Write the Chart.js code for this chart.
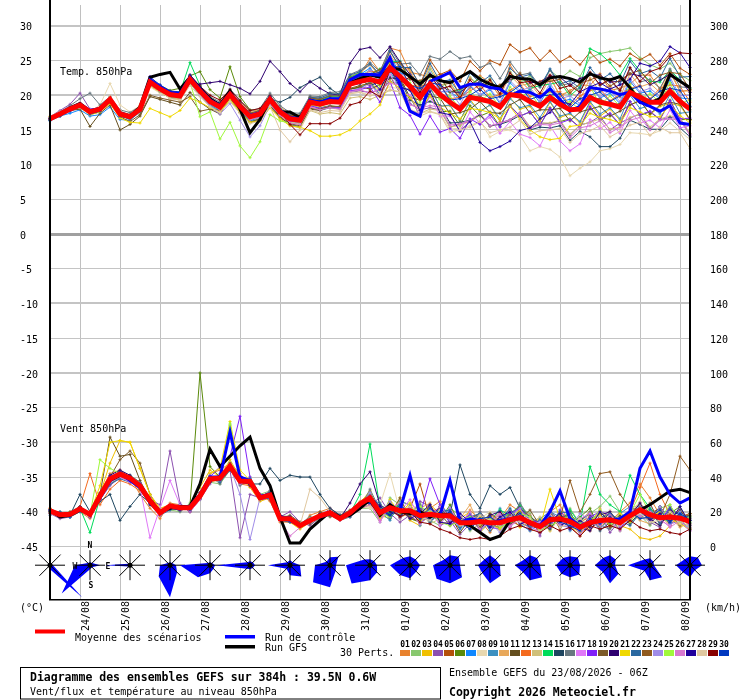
<!DOCTYPE html>
<html><head><meta charset="utf-8">
<script src="https://cdn.jsdelivr.net/npm/chart.js@4.4.0/dist/chart.umd.min.js"></script>
<style>html,body{margin:0;padding:0;background:#fff;}canvas{display:block;}</style>
</head><body>
<canvas id="c" width="740" height="700"></canvas>
<script>
// ---------- categories / tick labels ----------
const days = ['24/08','25/08','26/08','27/08','28/08','29/08','30/08','31/08','01/09','02/09','03/09','04/09','05/09','06/09','07/09','08/09'];
const leftTicks = [30,25,20,15,10,5,0,-5,-10,-15,-20,-25,-30,-35,-40,-45];
const rightTickLabels = ['300','280','260','240','220','200','180','160','140','120','100','80','60','40','20','0'];
const pertColors = ['#e8822e','#88c86e','#f0c000','#8c50b0','#b4500a','#5a8a0a','#1088ff','#e8d8b0','#3c90c0','#e8a85a','#644e1e','#f46a1e','#d0c07a','#00dc5a','#1e4660','#687880','#e078f8','#8020f8','#7c5a28','#2e0070','#f0d800','#2a68a0','#905a1e','#a08ce8','#a0f83c','#d878d0','#20009c','#e0c8a0','#880000','#0038c0'];

// ---------- temperature 850 hPa (°C), every 6 h ----------
const tempMean=[16.6,17.3,18.0,18.6,17.6,18.0,19.4,17.3,16.9,18.0,21.9,20.9,20.1,19.9,22.3,20.6,19.1,18.3,20.1,18.4,16.9,17.3,19.4,17.6,16.6,16.4,19.0,18.7,19.1,19.0,21.6,22.0,22.3,21.9,24.0,22.7,21.3,19.7,21.6,20.1,19.0,18.0,19.7,19.4,19.1,18.3,20.1,19.9,19.1,18.4,19.7,18.7,17.9,18.0,19.7,19.0,18.7,18.3,20.4,19.7,19.0,19.0,20.6,19.1,18.0];
const tempCtrl=[16.7,17.4,18.1,18.7,17.8,18.1,19.5,17.5,17.0,18.1,22.2,21.2,20.4,20.2,22.6,20.9,19.3,18.5,20.3,18.6,17.1,17.5,19.6,17.8,16.8,16.6,19.3,19.0,19.5,19.5,22.2,23.0,23.0,22.9,25.4,21.6,17.7,17.0,22.0,22.6,23.3,21.1,21.6,21.6,21.1,20.9,19.9,20.6,20.4,19.7,20.9,19.4,17.7,18.4,21.1,20.9,20.6,20.1,20.4,19.0,18.4,17.7,18.5,16.0,15.8];
const tempGfs=[16.6,17.3,18.2,18.8,17.7,18.1,19.4,17.4,17.0,18.3,22.6,23.0,23.3,20.9,22.6,21.0,19.5,18.6,20.6,18.0,14.6,16.5,19.5,17.6,17.6,16.8,19.2,19.0,19.4,19.3,21.8,22.4,22.9,22.6,24.0,23.7,22.7,21.6,22.9,22.1,21.8,22.6,23.4,22.3,21.6,21.1,22.7,22.4,22.3,21.5,22.5,22.7,22.4,21.9,23.1,22.5,22.2,22.7,21.1,19.0,18.9,19.5,23.0,22.0,21.1];
const tempP01=[16.8,17.5,18.2,18.9,17.8,18.3,19.6,17.6,17.2,18.3,21.5,20.6,19.8,19.5,22.0,20.3,19.4,18.7,20.4,18.9,17.3,17.6,19.9,18.0,17.1,16.9,19.6,19.4,20.0,20.2,22.4,22.9,25.3,23.4,26.8,26.4,23.3,23.0,22.6,23.0,23.0,19.8,21.0,22.8,21.8,19.8,24.4,22.1,20.7,22.0,22.8,19.8,20.7,21.5,21.4,23.1,20.7,21.0,21.6,22.9,22.9,20.9,23.6,20.5,20.8];
const tempP02=[16.4,17.1,17.8,18.4,17.3,17.8,19.0,17.0,16.6,17.8,21.6,20.5,19.7,19.7,22.1,20.2,18.6,17.8,19.6,18.0,16.5,16.9,19.0,17.4,16.8,16.9,19.4,19.3,19.8,20.1,22.4,22.8,23.6,21.7,25.1,23.0,22.9,20.6,23.8,21.2,21.9,19.6,22.6,21.3,22.4,20.2,23.4,21.8,22.8,21.1,23.6,22.4,23.5,22.7,25.4,26.0,26.3,26.5,26.8,25.4,24.4,23.8,24.6,23.0,22.1];
const tempP03=[16.9,17.5,18.2,18.5,17.4,17.9,19.1,17.2,16.5,17.6,21.3,20.4,19.6,19.3,21.8,20.0,18.7,17.9,19.6,17.8,16.3,16.7,18.8,17.0,16.0,15.8,18.4,18.0,18.3,18.1,20.8,21.3,21.9,20.6,23.8,21.5,21.4,18.1,21.2,18.4,18.5,16.3,19.4,17.6,18.6,16.2,19.7,18.0,18.4,16.2,19.0,16.8,17.3,16.0,18.9,17.0,18.0,16.4,18.6,19.3,17.2,18.4,18.8,18.5,16.4];
const tempP04=[16.9,17.8,18.7,20.3,18.0,18.2,19.5,17.6,17.0,18.4,22.4,21.5,20.3,20.2,22.9,21.3,19.5,18.7,20.6,18.6,17.1,17.6,19.6,17.8,16.5,16.0,18.6,18.1,18.3,18.0,20.4,20.6,20.4,20.8,22.0,21.6,18.8,17.9,18.2,17.9,15.4,15.9,16.2,17.2,15.5,16.0,16.5,17.5,15.2,16.0,15.9,16.3,14.2,15.7,16.1,17.0,15.0,16.0,16.7,17.3,15.1,16.5,16.8,16.6,14.4];
const tempP05=[16.5,17.2,17.9,18.5,17.5,17.9,19.2,17.2,16.8,17.8,22.0,21.0,20.4,20.0,22.6,20.9,19.3,18.5,20.3,18.6,17.1,17.5,19.7,17.8,16.9,16.8,19.5,19.4,19.9,20.1,22.7,23.3,24.4,22.9,26.3,24.0,23.9,21.5,25.1,23.0,23.6,22.0,24.9,23.5,25.0,24.4,27.3,26.2,26.8,25.0,26.4,24.8,25.6,24.4,26.2,24.7,25.2,24.2,26.0,25.1,25.9,24.3,26.0,23.9,23.0];
const tempP06=[16.7,17.4,18.1,18.8,17.8,18.2,19.7,17.5,17.1,18.3,22.4,21.4,20.7,21.0,22.8,23.4,20.8,19.6,24.1,19.8,17.9,17.8,19.9,17.9,16.4,16.0,18.5,18.2,18.5,18.3,20.9,21.1,21.8,19.8,22.8,20.3,19.8,17.0,20.1,17.6,17.7,15.6,18.5,17.0,17.6,15.5,18.5,17.0,17.6,15.7,18.2,16.2,16.6,15.3,18.2,16.4,17.3,15.7,19.1,17.1,17.6,16.5,19.3,16.5,16.5];
const tempP07=[16.3,17.0,17.4,17.9,17.0,17.2,18.3,16.5,16.4,17.6,21.8,20.6,19.6,19.5,21.9,20.2,18.7,17.7,19.6,17.8,16.3,16.9,19.2,17.4,16.8,16.9,19.7,19.5,20.0,20.0,22.5,23.0,23.9,22.3,25.6,23.2,22.9,20.0,23.2,20.5,20.5,19.5,21.3,20.0,20.8,18.8,21.8,20.4,20.8,18.9,21.3,19.1,19.4,18.5,21.4,19.6,20.3,18.8,22.0,20.3,20.6,19.5,22.2,19.6,19.5];
const tempP08=[16.9,17.6,18.0,18.3,17.6,18.6,21.7,18.6,17.6,18.5,21.2,20.3,20.0,20.2,22.0,20.4,19.0,18.0,19.8,18.0,16.6,17.0,19.0,17.1,16.1,15.9,18.5,18.0,18.2,17.9,20.3,20.5,20.0,20.5,21.2,20.9,18.0,17.4,17.7,17.3,15.1,15.3,15.6,16.3,14.0,14.8,15.0,14.2,12.0,12.6,12.2,11.1,8.4,9.5,10.4,12.0,12.3,12.9,14.6,14.5,14.3,14.9,16.0,14.8,13.6];
const tempP09=[16.5,17.2,17.9,18.4,17.3,17.7,19.1,17.0,16.6,17.7,21.5,20.6,19.7,19.5,21.7,20.0,18.5,17.6,19.3,17.7,16.2,16.6,18.5,16.8,15.8,15.5,18.2,17.8,18.2,18.1,20.6,21.0,21.9,20.1,23.4,21.0,20.9,18.0,21.1,18.4,18.6,16.4,19.1,17.7,18.6,16.6,19.5,18.2,18.6,16.8,19.1,17.0,17.4,16.2,19.1,17.3,18.2,16.6,20.0,18.1,18.5,17.3,20.1,17.4,17.6];
const tempP10=[16.8,17.4,18.2,18.7,17.9,18.2,19.7,17.7,17.2,18.4,22.0,21.2,20.5,20.3,22.5,20.9,19.4,18.8,20.6,19.0,17.6,17.9,20.0,18.3,17.3,17.2,19.8,19.6,20.2,20.2,22.7,23.3,24.4,22.7,25.8,23.8,23.6,20.9,24.2,21.5,21.7,19.7,22.5,21.0,21.9,19.8,22.9,21.4,21.7,19.9,22.4,20.1,20.5,19.4,22.5,20.5,21.4,19.7,23.1,21.2,21.7,20.4,23.3,20.6,20.6];
const tempP11=[16.5,17.0,17.8,18.0,15.5,17.4,18.6,15.0,15.8,17.0,19.8,19.4,19.0,18.6,20.4,19.0,18.0,17.3,19.6,17.5,16.1,16.6,18.7,16.9,15.7,15.4,18.0,17.8,18.3,18.4,20.9,21.2,20.9,21.5,22.4,22.5,19.7,19.3,19.9,19.6,17.3,17.5,18.0,19.1,17.5,17.4,18.6,19.4,17.4,17.9,17.9,18.1,16.3,17.6,18.0,18.4,17.0,17.7,18.6,19.2,17.3,18.6,19.0,18.7,16.5];
const tempP12=[16.6,17.3,18.1,18.7,17.7,18.1,19.5,17.5,17.0,18.1,21.9,21.1,20.2,20.0,22.4,20.8,19.3,18.4,20.2,18.6,17.1,17.4,19.5,17.8,16.8,16.6,19.3,19.0,19.5,19.4,22.0,22.5,23.5,23.2,24.0,24.0,21.5,21.2,21.8,21.6,19.5,19.7,20.6,21.5,19.7,20.1,20.7,21.6,19.8,20.2,20.5,20.5,18.5,19.9,20.7,20.9,19.2,20.1,21.0,21.4,19.5,21.0,21.5,21.3,19.0];
const tempP13=[16.7,17.4,18.0,18.4,17.5,17.9,19.1,17.1,16.7,17.9,21.5,20.5,19.6,19.5,21.8,20.0,18.4,17.6,19.2,17.6,16.1,16.4,18.4,16.7,15.6,15.3,17.8,17.3,17.5,17.3,19.6,19.8,19.4,20.0,20.7,20.5,17.8,17.4,18.0,17.8,15.4,15.7,16.2,17.1,15.5,15.9,16.4,17.4,15.5,16.0,16.0,16.4,14.4,15.7,16.1,16.6,15.1,15.4,16.8,17.3,15.4,16.6,17.0,16.8,14.5];
const tempP14=[16.6,17.3,17.9,18.5,17.6,18.0,19.3,17.2,16.8,17.9,22.3,21.2,20.2,20.4,24.7,21.4,19.4,18.6,20.3,18.6,17.1,17.6,19.7,17.9,16.9,16.8,19.4,19.2,19.8,19.8,22.6,23.2,23.0,23.8,24.8,24.9,22.3,22.0,22.8,22.6,20.4,20.8,21.5,22.5,21.1,21.4,22.0,23.0,21.0,21.4,21.6,21.9,19.9,21.2,26.7,26.0,24.7,22.9,25.3,23.5,22.0,21.9,23.6,22.2,21.0];
const tempP15=[16.5,17.1,17.8,18.3,17.3,17.7,19.0,17.0,16.6,17.7,21.5,20.6,19.8,19.7,22.0,20.3,18.8,18.0,19.8,18.2,16.8,17.3,19.5,19.0,19.7,21.1,21.9,22.6,21.0,20.0,21.8,22.2,21.4,21.9,22.6,22.2,19.3,18.6,19.1,18.5,16.0,16.1,16.4,17.2,15.6,15.8,16.3,17.1,15.0,15.4,15.3,15.6,13.5,14.8,14.0,12.6,12.6,13.8,16.4,15.8,15.1,15.1,16.8,15.3,14.0];
const tempP16=[16.8,17.6,18.5,19.5,20.3,18.6,19.8,17.9,17.5,18.4,22.1,21.3,20.5,20.4,22.8,21.3,19.8,19.0,20.9,19.3,17.8,18.1,20.3,18.5,17.5,17.4,19.9,19.8,20.4,20.5,23.0,23.6,24.7,23.4,26.8,24.5,24.6,22.9,25.6,25.2,26.3,25.3,25.6,24.0,24.6,22.4,24.8,22.9,23.2,21.3,23.6,21.4,21.7,20.6,23.3,21.4,22.2,20.5,23.8,21.9,22.3,21.0,23.8,21.2,21.1];
const tempP17=[16.7,17.5,18.3,18.9,17.9,18.2,19.6,17.4,16.9,18.1,22.0,21.0,20.1,19.9,22.5,20.8,19.2,18.3,20.1,18.3,16.9,17.1,19.1,17.3,16.2,16.0,18.6,18.1,18.4,18.3,20.7,20.9,21.6,19.9,23.0,20.4,20.0,17.0,19.8,17.0,17.0,14.8,17.6,15.9,16.8,14.5,16.2,14.4,13.9,12.7,15.6,13.4,12.0,13.0,16.5,15.2,16.1,14.5,17.8,16.0,16.4,15.3,17.9,15.3,15.6];
const tempP18=[16.6,17.4,18.1,18.8,17.7,18.0,19.4,17.2,16.8,18.0,22.7,21.3,20.2,20.1,22.6,20.8,19.1,18.2,20.0,18.3,16.8,17.1,19.2,17.4,16.3,16.0,18.5,18.1,18.4,18.2,20.6,20.8,21.2,19.0,22.0,18.2,17.1,14.4,17.0,14.7,15.2,13.8,16.6,15.8,17.2,15.4,18.4,17.0,17.6,15.7,18.1,16.0,16.5,15.4,18.4,16.6,17.4,15.8,19.1,17.2,17.7,16.5,19.2,16.6,16.7];
const tempP19=[16.4,17.1,17.8,18.3,17.2,17.6,19.0,16.9,16.2,17.2,20.0,19.6,19.3,19.0,19.8,17.7,18.0,17.8,19.5,17.7,16.1,16.4,18.5,16.8,15.9,15.6,18.1,18.0,18.4,18.4,21.0,21.4,21.7,21.9,23.4,22.7,20.9,20.0,21.3,20.4,18.8,18.5,19.6,19.9,19.0,18.8,20.1,20.4,19.0,18.9,19.6,19.2,17.8,18.5,19.6,19.5,18.6,18.8,20.3,20.2,18.9,19.5,20.5,19.6,17.9];
const tempP20=[16.7,17.4,18.2,18.8,17.8,18.2,19.5,17.5,17.1,18.2,21.9,21.0,20.3,20.2,21.6,21.6,21.8,22.0,21.5,21.0,20.2,22.0,24.9,23.4,21.7,20.5,22.0,21.0,20.2,20.0,24.6,26.6,26.9,25.4,27.0,24.8,23.0,21.4,23.0,21.5,20.5,20.4,21.5,21.9,21.1,21.0,22.2,22.9,21.8,21.9,22.8,22.6,21.4,22.4,23.0,22.9,21.9,22.0,23.1,22.8,21.5,22.2,23.0,22.2,20.4];
const tempP21=[16.9,17.4,17.9,18.2,17.2,17.6,18.8,16.7,16.1,16.0,18.1,17.5,16.9,17.8,19.6,19.0,18.2,17.6,19.4,17.6,16.1,16.3,18.2,16.6,15.6,15.4,14.9,14.1,14.1,14.3,15.0,16.3,17.3,18.6,22.0,21.0,19.6,18.0,19.9,18.3,17.4,16.6,18.1,17.9,17.5,16.6,18.4,16.5,15.0,14.0,13.6,13.8,15.5,15.7,17.4,16.8,16.5,16.0,18.2,17.6,16.9,16.9,18.6,17.1,16.0];
const tempP22=[16.5,17.2,17.9,18.6,17.6,18.1,19.5,17.4,17.1,18.2,22.2,21.2,20.5,20.3,22.7,21.0,19.5,18.8,20.6,18.9,17.4,17.8,19.9,18.1,17.2,17.1,19.7,19.6,20.2,20.2,22.9,23.4,24.5,23.0,26.4,24.0,24.0,21.4,24.6,22.0,22.2,20.2,23.2,21.8,22.8,20.8,23.9,22.6,23.0,21.2,23.8,21.6,22.1,21.0,24.0,22.2,23.1,21.6,24.9,23.1,23.6,22.5,25.3,22.6,22.7];
const tempP23=[16.6,17.3,18.0,18.7,17.7,18.1,19.5,17.4,17.1,18.1,22.2,21.0,20.3,20.1,22.5,20.8,19.4,18.6,20.4,18.8,17.4,17.8,19.8,18.0,17.1,17.0,19.6,19.4,19.9,19.9,22.5,23.0,23.0,23.7,24.7,24.7,22.3,22.1,22.8,22.6,20.5,20.9,21.4,22.4,21.0,21.5,22.1,23.2,21.2,21.8,22.0,22.3,20.3,21.7,22.2,22.8,21.3,22.2,23.1,23.6,21.7,22.9,23.3,23.1,20.8];
const tempP24=[16.8,17.5,18.2,18.7,17.7,18.1,19.5,17.4,17.0,18.1,21.8,20.7,19.9,19.6,21.9,20.1,18.4,17.3,18.8,16.4,14.0,15.6,18.6,17.2,16.5,16.4,19.1,19.0,19.5,19.4,22.1,22.6,23.6,22.1,25.4,23.0,22.8,20.1,23.2,20.5,20.7,18.6,21.5,20.1,21.0,19.0,22.1,20.7,21.1,19.2,21.7,19.5,19.9,18.8,21.7,19.8,20.7,19.1,22.4,20.5,21.0,19.8,22.6,19.9,20.0];
const tempP25=[16.6,17.3,18.0,18.6,17.5,17.9,19.3,17.2,16.8,17.9,21.7,20.7,19.8,19.6,21.9,16.9,17.6,13.7,16.1,12.7,11.0,13.3,17.2,16.3,16.0,16.0,18.6,18.4,18.9,18.9,21.5,21.9,22.8,21.2,24.5,22.0,21.8,19.0,22.2,19.4,19.9,18.0,20.5,19.2,20.2,18.3,21.2,19.8,20.5,18.3,20.7,18.4,19.1,17.9,21.3,18.6,19.9,18.4,21.5,19.4,20.2,19.0,21.8,18.8,19.3];
const tempP26=[16.5,17.2,17.9,18.4,17.4,17.8,19.2,17.1,16.7,17.8,21.7,20.8,19.9,19.7,22.1,20.4,18.8,17.9,19.7,18.0,16.5,16.8,18.9,17.1,16.0,15.8,18.3,17.9,18.2,18.0,20.5,20.8,20.3,20.9,21.7,21.5,18.6,18.2,18.5,18.3,15.7,15.9,16.3,17.4,15.6,16.0,16.4,17.4,15.2,15.8,15.7,16.0,13.9,15.3,15.6,16.3,14.6,15.4,16.4,16.8,15.0,16.4,16.6,16.4,14.2];
const tempP27=[16.6,17.3,18.0,18.6,17.6,18.0,19.4,17.3,16.9,18.1,22.0,21.1,20.3,20.2,22.7,21.0,19.4,18.5,20.2,18.5,17.0,17.5,19.6,17.9,16.8,16.5,19.0,18.6,19.0,19.0,21.4,21.7,22.4,20.8,23.8,21.2,20.7,17.8,20.6,17.5,17.2,14.8,16.2,13.2,12.0,12.6,13.4,14.9,15.3,16.6,17.5,19.2,18.7,20.5,21.2,21.8,20.9,21.5,22.3,24.6,24.2,24.9,27.0,26.1,24.0];
const tempP28=[17.0,17.6,18.1,18.2,17.3,17.9,19.9,17.8,17.1,18.6,21.5,20.6,19.5,19.3,21.4,19.8,18.3,17.5,19.1,17.4,15.9,16.3,18.4,15.0,13.3,15.0,17.9,17.5,17.8,17.7,20.2,20.4,19.9,20.2,20.8,20.5,17.6,17.0,17.6,17.2,14.7,15.0,15.4,16.2,14.6,15.0,15.4,16.4,14.4,14.9,15.0,15.2,13.2,14.5,14.9,15.6,14.0,14.8,15.7,16.1,14.2,15.4,14.6,14.6,12.3];
const tempP29=[16.6,17.2,17.9,18.5,17.5,17.9,19.3,17.3,16.9,18.0,22.0,21.2,20.5,20.4,22.9,21.3,20.0,19.3,20.8,19.2,17.8,18.1,19.9,17.6,15.8,14.3,15.9,15.9,15.9,16.7,18.6,19.0,20.6,19.8,23.7,21.9,22.6,20.4,23.0,20.9,21.3,19.6,22.2,20.7,22.2,20.2,23.2,21.8,22.0,20.3,22.9,21.0,21.4,20.4,23.3,21.5,22.3,20.7,24.0,22.0,23.4,23.9,25.6,26.1,26.0];
const tempP30=[16.4,17.0,17.7,18.3,17.3,17.7,19.0,17.0,16.8,18.0,22.6,21.5,20.6,20.5,22.9,21.1,19.5,18.6,20.4,18.7,17.2,17.6,19.8,17.9,16.9,16.8,19.4,19.1,19.6,19.6,22.2,22.7,23.0,23.3,24.1,24.1,21.4,21.0,21.8,21.5,19.3,19.5,20.0,20.9,19.5,19.8,20.4,21.4,19.4,19.9,20.0,20.2,18.2,19.5,20.0,20.5,19.1,19.9,20.8,21.3,19.4,20.6,21.0,20.7,18.4];

// ---------- wind 850 hPa (km/h, right-hand scale), every 6 h ----------
const windMean=[20.5,18.3,18.5,21.7,18.5,29.1,38.9,41.7,39.4,34.9,26.3,19.4,23.4,22.3,22.3,29.1,38.9,39.4,46.3,37.7,37.4,28.0,29.7,16.0,16.0,12.0,14.9,17.7,19.4,16.0,19.4,24.5,28.0,19.4,22.3,20.6,20.6,17.7,18.6,17.7,17.7,13.7,13.7,14.3,13.7,13.7,15.4,16.6,13.7,11.4,15.4,16.0,14.3,11.1,13.7,14.9,15.4,13.7,17.7,21.1,18.3,16.6,17.0,16.3,14.3];
const windCtrl=[21,18,19,22,18,28,38,42,38,34,26,20,23,22,23,30,40,40,66,40,38,29,30,17,15,12,15,17,19,16,19,24,28,20,22,21,41,18,19,18,38,14,16,15,13,15,16,17,14,12,20,32,16,12,14,15,15,16,20,45,55,40,30,25,28];
const windGfs=[21,17,18,21,19,30,38,41,40,34,27,20,22,23,23,36,56,46,52,58,63,45,35,17,2,2,10,15,20,17,18,22,27,18,24,20,19,20,17,19,18,14,12,8,4,6,15,17,13,12,16,15,15,11,13,15,15,14,18,21,24,28,32,33,31];
const windP01=[22,19,17,20,16,31,42,44,40,30,22,16,25,24,20,31,42,44,48,42,35,30,26,14,14,11,18,20,22,18,20,26,30,22,18,26,24,16,22,26,16,10,21,15,8,16,24,20,9,10,20,24,12,6,13,21,14,20,25,36,28,18,12,19,11];
const windP02=[19,17,20,23,19,27,36,40,41,37,28,20,21,20,25,27,37,36,44,36,40,30,32,18,17,14,13,16,18,15,18,22,22,14,28,24,18,25,15,12,22,18,9,13,19,10,13,22,19,8,16,12,22,13,19,23,29,20,14,18,12,22,24,14,16];
const windP03=[21,19,19,21,20,30,48,61,60,45,30,22,24,21,24,34,44,40,50,40,34,26,28,15,14,10,14,17,20,15,20,25,32,18,16,28,15,12,24,19,12,16,20,8,14,20,17,11,13,16,9,19,10,15,20,12,18,12,10,5,4,6,12,18,13];
const windP04=[19,16,17,21,17,27,35,40,38,33,27,24,55,25,20,27,36,42,44,5,30,28,32,17,20,14,12,17,22,18,17,22,24,28,19,14,18,26,23,12,15,7,13,20,12,17,10,22,18,6,21,14,17,8,12,19,8,15,20,24,14,11,22,14,9];
const windP05=[20,19,18,22,18,28,40,42,38,34,25,20,22,22,22,28,38,38,45,38,38,27,28,16,17,13,16,18,20,17,20,24,26,17,25,20,22,36,16,20,21,15,11,17,13,19,15,12,16,13,20,10,18,14,9,16,20,12,18,25,19,22,14,17,19];
const windP06=[20,18,19,22,19,30,38,42,40,36,27,20,22,21,24,100,46,40,48,38,36,29,30,17,16,12,15,17,19,17,19,23,31,21,17,24,16,14,22,15,24,12,18,10,17,13,20,14,11,15,12,19,13,17,22,10,17,9,21,16,20,13,19,23,12];
const windP07=[21,19,18,22,19,28,37,41,38,34,26,18,22,23,21,28,40,38,46,37,38,29,30,17,16,12,14,19,18,17,18,24,27,16,26,18,22,19,14,23,19,10,15,18,11,14,21,13,9,13,18,12,15,7,16,19,12,17,14,24,17,20,13,15,10];
const windP08=[19,17,18,21,17,29,39,42,39,36,27,20,24,23,22,29,38,37,45,38,36,28,29,15,15,11,14,17,18,15,18,23,22,24,42,20,16,23,19,14,13,18,12,16,20,9,18,24,17,14,11,21,12,15,18,13,21,11,19,26,15,17,22,12,18];
const windP09=[20,18,18,20,18,30,40,43,40,35,26,19,22,22,23,30,40,40,47,38,37,28,30,16,15,12,15,18,19,16,19,25,30,20,15,26,24,12,21,17,22,11,19,9,14,22,12,20,10,16,20,17,9,12,15,18,13,19,23,17,22,14,18,20,16];
const windP10=[20,18,17,22,18,28,40,42,38,34,25,18,22,23,21,28,38,40,46,38,38,29,30,17,17,13,16,18,20,17,20,25,25,15,21,17,19,22,25,13,14,16,24,12,17,19,11,21,18,9,13,19,16,14,10,22,11,16,20,15,13,21,17,11,14];
const windP11=[21,19,18,23,17,30,63,52,53,38,27,20,24,22,23,30,40,39,47,38,37,28,30,16,17,12,15,18,20,16,19,24,29,23,19,24,17,14,17,21,18,8,16,19,12,11,19,23,12,10,17,12,20,9,18,14,19,13,21,18,15,23,12,17,18];
const windP12=[22,18,19,23,42,24,33,38,36,32,25,19,23,21,23,28,37,39,46,36,35,28,28,16,16,13,15,17,18,16,19,23,24,18,25,16,21,15,20,22,15,17,12,14,18,13,16,19,12,11,18,15,11,14,17,12,16,14,20,34,48,30,18,21,15];
const windP13=[19,18,18,21,18,29,38,42,39,35,27,19,22,23,22,29,39,38,46,38,37,29,29,16,15,12,15,17,19,16,19,24,26,24,21,19,25,20,13,16,20,15,10,18,12,16,21,13,13,17,9,17,19,10,16,14,17,10,22,24,15,12,20,15,11];
const windP14=[20,18,17,22,8,28,38,41,38,34,26,20,23,23,22,29,38,38,70,40,37,28,30,17,16,13,15,18,19,17,19,30,59,22,19,25,18,21,16,20,17,13,16,10,15,21,18,24,16,12,18,14,21,13,46,30,24,20,41,30,22,17,14,19,14];
const windP15=[21,19,18,30,20,26,30,15,23,30,25,20,23,22,22,28,38,38,45,38,36,36,45,38,41,40,40,30,22,18,19,24,28,20,25,17,23,16,19,22,18,47,30,22,35,30,34,22,17,13,10,18,12,15,19,9,14,18,13,20,16,23,15,21,12];
const windP16=[19,20,17,21,19,31,37,40,41,37,24,18,24,20,24,31,41,36,48,35,39,27,32,18,14,13,17,16,21,15,17,22,33,21,17,23,19,24,14,19,12,16,10,20,13,17,15,25,16,10,21,11,17,14,20,12,10,15,18,23,13,19,21,16,17];
const windP17=[20,17,19,21,18,28,38,41,38,34,5,22,38,24,22,28,40,38,46,40,37,29,30,17,17,12,14,17,18,16,19,24,25,14,24,20,27,16,21,12,22,13,17,9,16,19,11,18,12,8,17,14,10,16,19,13,15,9,23,18,24,15,12,17,12];
const windP18=[20,18,19,22,18,28,40,42,39,36,27,20,22,22,22,29,40,46,52,75,40,27,28,15,15,12,15,18,19,16,19,24,26,17,22,21,20,18,39,24,13,15,18,14,11,10,19,22,15,14,11,21,13,9,17,20,18,11,15,22,19,14,23,13,16];
const windP19=[20,19,18,22,19,30,40,50,55,48,30,20,23,22,23,28,38,40,45,38,37,28,30,16,18,14,13,20,17,18,21,22,24,21,18,28,16,15,24,14,20,12,16,11,19,15,13,16,21,12,15,17,18,10,13,19,11,17,16,20,25,13,18,12,19];
const windP20=[21,17,19,23,17,27,41,44,41,33,24,21,22,24,20,31,37,41,44,40,35,30,28,18,16,12,15,18,19,16,25,36,43,24,20,18,22,19,16,23,14,17,12,9,18,20,13,21,10,14,19,12,15,11,9,18,20,13,17,25,16,12,21,18,15];
const windP21=[20,18,18,21,19,35,60,61,60,45,30,21,22,23,22,30,42,45,72,44,38,28,29,16,17,11,16,17,20,15,18,25,29,16,27,19,25,14,20,17,19,15,11,17,13,10,16,21,14,11,33,16,12,8,15,18,12,19,14,22,17,20,16,13,10];
const windP22=[18,20,17,20,19,27,36,39,37,36,28,18,21,24,21,27,41,37,44,36,39,30,27,15,14,13,16,16,20,18,17,23,27,25,16,24,18,22,14,20,21,11,17,19,9,15,22,14,11,15,13,20,19,12,14,16,19,15,12,19,21,13,22,18,17];
const windP23=[19,17,20,21,18,30,38,43,40,34,27,20,22,21,23,30,38,40,47,37,36,29,31,17,17,11,14,19,18,17,20,23,26,20,23,20,17,21,18,15,19,13,15,11,17,12,18,16,14,11,15,16,38,20,30,42,43,30,22,21,18,17,30,52,44];
const windP24=[21,19,17,22,19,28,40,41,38,36,25,20,24,21,23,28,39,39,46,30,4,28,30,16,15,13,16,17,20,15,20,23,31,18,26,16,22,13,21,19,15,18,11,15,14,8,17,22,13,14,17,12,11,19,15,10,16,14,21,18,14,23,13,20,11];
const windP25=[20,18,18,22,18,50,45,42,40,33,27,21,22,23,21,30,40,38,71,39,36,27,31,17,15,12,16,19,18,17,18,25,27,19,17,24,20,23,20,14,12,15,17,13,16,11,14,19,17,9,12,15,18,13,14,21,13,15,19,30,19,16,24,14,17];
const windP26=[19,17,19,21,17,27,37,40,37,36,28,18,22,24,20,27,41,38,45,36,38,30,28,15,6,11,14,17,20,15,18,22,24,15,22,25,19,13,18,23,17,13,20,10,14,18,12,15,10,14,18,13,16,7,15,12,18,13,22,17,20,16,11,15,9];
const windP27=[21,19,18,21,19,30,40,43,40,36,25,20,22,21,23,28,40,40,47,37,36,29,29,17,17,13,14,19,18,17,20,25,29,23,18,22,16,19,24,14,13,19,14,16,11,17,20,13,15,12,14,19,10,15,11,20,14,16,18,21,15,19,14,23,13];
const windP28=[20,18,19,21,18,28,38,41,38,35,27,20,23,22,22,29,39,39,46,38,37,28,30,16,16,12,33,28,20,16,19,24,23,19,24,20,23,17,15,21,17,12,13,18,15,12,16,14,16,9,19,11,13,16,12,17,15,12,16,19,14,15,20,13,16];
const windP29=[20,18,18,22,18,29,39,42,39,35,26,19,23,22,22,29,39,39,46,38,37,28,30,16,16,12,15,18,19,16,19,24,28,19,22,17,20,14,13,10,8,5,4,5,4,6,10,12,10,8,12,9,11,6,12,10,12,10,15,11,9,10,8,7,10];
const windP30=[20,19,17,22,19,28,38,43,40,34,27,20,22,23,21,30,40,38,45,39,36,29,31,17,17,12,15,17,20,16,18,24,25,21,18,24,19,16,22,17,20,14,10,16,17,13,15,19,13,12,17,14,12,9,16,13,17,13,20,16,17,21,14,19,15];

// ---------- daily wind-direction roses: N, NE, E, SE, S, SW, W, NW ----------
const roseDirs = ['N','NE','E','SE','S','SW','W','NW'];
const roseFreq = [
 [2,2,3,46,4,2,2,2],[3,3,10,3,4,40,15,3],[2,2,2,2,2,2,25,2],[3,3,6,10,32,16,10,3],
 [3,3,5,5,8,17,30,3],[4,4,5,4,4,5,33,4],[5,4,10,16,10,5,22,4],[8,12,6,8,22,24,15,5],
 [6,6,7,10,15,26,24,8],[9,8,10,9,13,14,20,10],[10,12,10,17,18,19,17,8],[10,8,10,15,18,11,12,8],
 [10,10,10,17,15,10,15,8],[9,11,10,13,12,12,14,10],[10,8,5,12,18,10,15,10],[7,5,4,17,15,8,22,8],
 [9,11,12,7,12,10,14,8]
];

const tempPerts=[tempP01,tempP02,tempP03,tempP04,tempP05,tempP06,tempP07,tempP08,tempP09,tempP10,tempP11,tempP12,tempP13,tempP14,tempP15,tempP16,tempP17,tempP18,tempP19,tempP20,tempP21,tempP22,tempP23,tempP24,tempP25,tempP26,tempP27,tempP28,tempP29,tempP30];
const windPerts=[windP01,windP02,windP03,windP04,windP05,windP06,windP07,windP08,windP09,windP10,windP11,windP12,windP13,windP14,windP15,windP16,windP17,windP18,windP19,windP20,windP21,windP22,windP23,windP24,windP25,windP26,windP27,windP28,windP29,windP30];

// x categories: 65 steps of 6 h from 23/08 06Z; midnight steps carry the day label
const xLabels = tempMean.map((_, i) => (i >= 3 && (i - 3) % 4 === 0) ? days[(i - 3) / 4] : '');
// wind panel shares the left axis: 0 km/h sits at -45, 180 km/h at 0
const kmhToAxis = v => -45 + v / 4;

const FONT = '"DejaVu Sans Mono", monospace';
const Y_MIN = -52.714, Y_MAX = 33;
const ROSE_LEVEL = -47.7;

function ds(data, color, width, order, points) {
  return { data, borderColor: color, backgroundColor: color, borderWidth: width,
    pointRadius: points ? 1.5 : 0, pointStyle: 'cross', pointBorderWidth: 1, pointBorderColor: color,
    tension: 0, fill: false, order, yAxisID: 'y' };
}
const datasets = [];
datasets.push(ds(tempMean, '#ff0000', 5, 0, false));
datasets.push(ds(tempCtrl, '#0000ff', 3, 1, false));
datasets.push(ds(tempGfs, '#000000', 3, 2, false));
datasets.push(ds(windMean.map(kmhToAxis), '#ff0000', 5, 0, false));
datasets.push(ds(windCtrl.map(kmhToAxis), '#0000ff', 3, 1, false));
datasets.push(ds(windGfs.map(kmhToAxis), '#000000', 3, 2, false));
tempPerts.forEach((a, k) => datasets.push(ds(a, pertColors[k], 1, 40 - k, true)));
windPerts.forEach((a, k) => datasets.push(ds(a.map(kmhToAxis), pertColors[k], 1, 40 - k, true)));

const framePlugin = {
  id: 'frame',
  beforeDraw(chart) {
    const c = chart.ctx; c.save(); c.fillStyle = '#fff'; c.fillRect(0, 0, chart.width, chart.height); c.restore();
  },
  beforeDatasetsDraw(chart) {
    const c = chart.ctx; c.save();
    c.fillStyle = '#000'; c.font = '10px ' + FONT; c.textBaseline = 'alphabetic';
    c.fillText('Temp. 850hPa', 60, 75);
    c.fillText('Vent 850hPa', 60, 432);
    c.restore();
  },
  afterDatasetsDraw(chart) {
    const c = chart.ctx, a = chart.chartArea, xs = chart.scales.x, ys = chart.scales.y;
    c.save();
    const cy = ys.getPixelForValue(ROSE_LEVEL);
    roseFreq.forEach((f, k) => {
      const cx = xs.getPixelForValue(k * 4);
      c.beginPath();
      f.forEach((r, d) => {
        const ang = -Math.PI / 2 + d * Math.PI / 4;
        const px = cx + r * Math.cos(ang), py = cy + r * Math.sin(ang);
        if (d === 0) c.moveTo(px, py); else c.lineTo(px, py);
      });
      c.closePath(); c.fillStyle = '#0000ff'; c.fill();
      c.strokeStyle = '#000'; c.lineWidth = 1; c.beginPath();
      for (let d = 0; d < 8; d++) {
        const ang = d * Math.PI / 4;
        c.moveTo(cx, cy); c.lineTo(cx + 15 * Math.cos(ang), cy + 15 * Math.sin(ang));
      }
      c.stroke();
      c.beginPath(); c.arc(cx, cy, 2.5, 0, Math.PI * 2); c.fillStyle = '#000'; c.fill();
      if (k === 1) {
        c.font = 'bold 8px ' + FONT; c.textAlign = 'center'; c.textBaseline = 'middle';
        c.fillText('N', cx, cy - 19); c.fillText('S', cx + 1, cy + 21);
        c.fillText('W', cx - 15, cy + 2); c.fillText('E', cx + 18, cy + 2);
      }
    });
    c.fillStyle = '#000';
    c.fillRect(a.left - 1, 0, 2, a.bottom);
    c.fillRect(a.right - 1, 0, 2, a.bottom);
    c.fillRect(a.left - 1, a.bottom - 1, a.right - a.left + 2, 1.5);
    c.restore();
  },
  afterDraw(chart) {
    const c = chart.ctx; c.save();
    c.fillStyle = '#000'; c.textBaseline = 'alphabetic'; c.textAlign = 'left';
    c.font = '10px ' + FONT;
    c.fillText('(°C)', 20, 611);
    c.fillText('(km/h)', 705, 611);
    c.fillStyle = '#ff0000'; c.fillRect(35, 629.5, 30, 4);
    c.fillStyle = '#0000ff'; c.fillRect(225, 635, 30, 3.5);
    c.fillStyle = '#000000'; c.fillRect(225, 645, 30, 3.5);
    c.fillStyle = '#000';
    c.fillText('Moyenne des scénarios', 75, 641);
    c.fillText('Run de contrôle', 265, 641);
    c.fillText('Run GFS', 265, 651);
    c.fillText('30 Perts.', 340, 656);
    c.font = 'bold 8px ' + FONT; c.textAlign = 'center';
    pertColors.forEach((col, k) => {
      const x0 = 400 + 11 * k;
      c.fillStyle = '#000'; c.fillText(String(k + 1).padStart(2, '0'), x0 + 5, 647);
      c.fillStyle = col; c.fillRect(x0, 650, 10, 6);
    });
    c.textAlign = 'left'; c.fillStyle = '#000';
    c.strokeStyle = '#000'; c.lineWidth = 1; c.strokeRect(20.5, 667.5, 420, 31.5);
    c.font = 'bold 11.5px ' + FONT;
    c.fillText('Diagramme des ensembles GEFS sur 384h : 39.5N 0.6W', 30, 681);
    c.fillText('Copyright 2026 Meteociel.fr', 449, 696);
    c.font = '10px ' + FONT;
    c.fillText('Vent/flux et température au niveau 850hPa', 30, 695);
    c.fillText('Ensemble GEFS du 23/08/2026 - 06Z', 449, 676);
    c.restore();
  }
};

const yTicksBuild = s => { s.ticks = leftTicks.map(v => ({ value: v })); };

new Chart(document.getElementById('c'), {
  type: 'line',
  data: { labels: xLabels, datasets },
  options: {
    responsive: false, animation: false, devicePixelRatio: 1,
    layout: { padding: { left: 20, right: 0, top: 0, bottom: 0 } },
    plugins: { legend: { display: false }, tooltip: { enabled: false } },
    elements: { line: { tension: 0 } },
    scales: {
      x: {
        type: 'category', offset: false,
        grid: { color: c => (xLabels[c.index] ? '#c0c0c0' : 'rgba(0,0,0,0)'), lineWidth: 1, drawTicks: false },
        border: { display: false },
        ticks: { autoSkip: false, minRotation: 90, maxRotation: 90, padding: 1, labelOffset: 6, color: '#000', font: { family: FONT, size: 10 } },
        afterFit: s => { s.height = 100; s.paddingLeft = 0; s.paddingRight = 0; }
      },
      y: {
        type: 'linear', position: 'left', min: Y_MIN, max: Y_MAX,
        afterBuildTicks: yTicksBuild,
        ticks: { callback: v => String(v), crossAlign: 'far', padding: 0, labelOffset: 2, color: '#000', font: { family: FONT, size: 10 } },
        grid: { drawTicks: false,
          color: c => (c.tick && c.tick.value === 0) ? '#a0a0a0' : '#c4c4c4',
          lineWidth: c => !c.tick ? 1 : (c.tick.value === 0 ? 3 : (c.tick.value % 10 === 0 ? 2 : 1)) },
        border: { display: false },
        afterFit: s => { s.width = 30; s.paddingTop = 0; s.paddingBottom = 0; }
      },
      y2: {
        type: 'linear', position: 'right', min: Y_MIN, max: Y_MAX,
        afterBuildTicks: yTicksBuild,
        ticks: { callback: (v, i) => rightTickLabels[i], padding: 20, labelOffset: 2, color: '#000', font: { family: FONT, size: 10 } },
        grid: { display: false, drawTicks: false },
        border: { display: false },
        afterFit: s => { s.width = 50; s.paddingTop = 0; s.paddingBottom = 0; }
      }
    }
  },
  plugins: [framePlugin]
});
</script>
</body></html>
